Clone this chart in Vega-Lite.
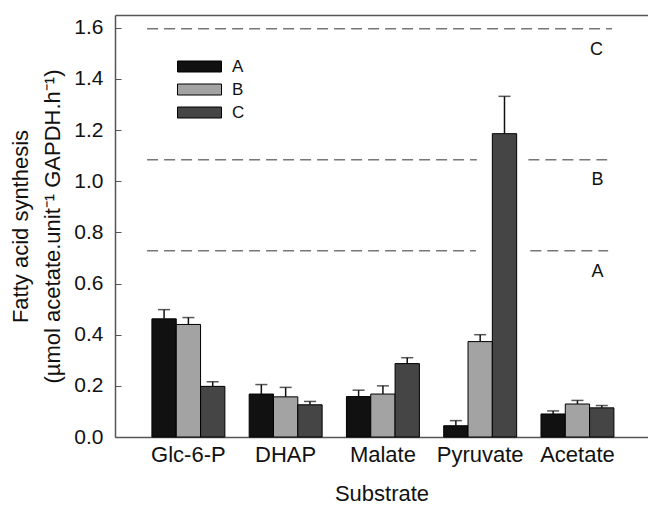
{
  "$schema": "https://vega.github.io/schema/vega-lite/v6.json",
  "autosize": {"type": "none"},
  "padding": {"left": 115, "top": 15, "right": 0, "bottom": 80},
  "width": 533,
  "height": 422,
  "background": "white",
  "config": {
    "font": "Liberation Sans",
    "view": {"stroke": null},
    "axis": {"labelFont": "Liberation Sans", "titleFont": "Liberation Sans", "labelColor": "#111", "titleColor": "#111", "titleFontWeight": "normal", "domainColor": "#555", "tickColor": "#555", "grid": false}
  },
  "datasets": {
    "bars": [
      {"substrate": "Glc-6-P", "series": "A", "value": 0.462, "upper": 0.498},
      {"substrate": "Glc-6-P", "series": "B", "value": 0.440, "upper": 0.467},
      {"substrate": "Glc-6-P", "series": "C", "value": 0.198, "upper": 0.216},
      {"substrate": "DHAP", "series": "A", "value": 0.168, "upper": 0.205},
      {"substrate": "DHAP", "series": "B", "value": 0.157, "upper": 0.194},
      {"substrate": "DHAP", "series": "C", "value": 0.126, "upper": 0.139},
      {"substrate": "Malate", "series": "A", "value": 0.158, "upper": 0.183},
      {"substrate": "Malate", "series": "B", "value": 0.168, "upper": 0.200},
      {"substrate": "Malate", "series": "C", "value": 0.287, "upper": 0.310},
      {"substrate": "Pyruvate", "series": "A", "value": 0.044, "upper": 0.064},
      {"substrate": "Pyruvate", "series": "B", "value": 0.373, "upper": 0.400},
      {"substrate": "Pyruvate", "series": "C", "value": 1.186, "upper": 1.332},
      {"substrate": "Acetate", "series": "A", "value": 0.090, "upper": 0.102},
      {"substrate": "Acetate", "series": "B", "value": 0.129, "upper": 0.143},
      {"substrate": "Acetate", "series": "C", "value": 0.114, "upper": 0.123}
    ],
    "levels": [
      {"series": "A", "level": 0.728, "start": 0.33, "end": 3.71},
      {"series": "A", "level": 0.728, "start": 4.27, "end": 5.07},
      {"series": "B", "level": 1.084, "start": 0.33, "end": 3.72},
      {"series": "B", "level": 1.084, "start": 4.25, "end": 5.06},
      {"series": "C", "level": 1.596, "start": 0.33, "end": 5.11}
    ],
    "levelLabels": [
      {"series": "A", "y": 0.646, "x": 4.96},
      {"series": "B", "y": 1.005, "x": 4.96},
      {"series": "C", "y": 1.514, "x": 4.95}
    ]
  },
  "resolve": {"scale": {"x": "independent"}},
  "layer": [
    {
      "data": {"name": "bars"},
      "encoding": {
        "x": {
          "field": "substrate", "type": "nominal", "sort": ["Glc-6-P", "DHAP", "Malate", "Pyruvate", "Acetate"],
          "scale": {"paddingInner": 0.25, "paddingOuter": 0.365, "align": 0.52},
          "axis": {"title": "Substrate", "labelAngle": 0, "ticks": false, "labelFontSize": 22, "titleFontSize": 22, "labelPadding": 7, "titlePadding": 18, "domainWidth": 1.5}
        },
        "xOffset": {"field": "series", "type": "nominal", "scale": {"paddingInner": 0, "paddingOuter": 0}}
      },
      "layer": [
        {
          "mark": {"type": "bar", "stroke": "#000", "strokeWidth": 1},
          "encoding": {
            "y": {
              "field": "value", "type": "quantitative",
              "scale": {"domain": [0, 1.65], "nice": false},
              "axis": {
                "title": ["Fatty acid synthesis", "(µmol acetate.unit⁻¹ GAPDH.h⁻¹)"],
                "values": [0, 0.2, 0.4, 0.6, 0.8, 1.0, 1.2, 1.4, 1.6],
                "format": ".1f", "labelFontSize": 21, "titleFontSize": 22,
                "tickSize": -6, "labelPadding": 18, "titlePadding": 9, "titleLineHeight": 32, "domainWidth": 1.5
              }
            },
            "color": {
              "field": "series", "type": "nominal",
              "scale": {"domain": ["A", "B", "C"], "range": ["#111111", "#a3a3a3", "#454545"]},
              "legend": {
                "title": null, "orient": "none", "legendX": 73, "legendY": 40,
                "symbolType": "M-2,-0.5H2V0.5H-2Z", "symbolSize": 484,
                "symbolStrokeColor": "#000", "symbolStrokeWidth": 1,
                "labelFontSize": 17, "labelFont": "Liberation Sans", "labelColor": "#111", "labelOffset": 21, "rowPadding": 3
              }
            }
          }
        },
        {
          "mark": {"type": "rule", "color": "#111", "strokeWidth": 1.5},
          "encoding": {
            "y": {"field": "value", "type": "quantitative"},
            "y2": {"field": "upper"}
          }
        },
        {
          "mark": {"type": "tick", "color": "#111", "thickness": 1.5, "size": 12},
          "encoding": {
            "y": {"field": "upper", "type": "quantitative"}
          }
        }
      ]
    },
    {
      "data": {"name": "levels"},
      "mark": {"type": "rule", "color": "#777", "strokeWidth": 1.5, "strokeDash": [11, 6]},
      "encoding": {
        "x": {"field": "start", "type": "quantitative", "scale": {"domain": [0, 5.48], "nice": false, "zero": false},
          "axis": {"orient": "top", "labels": false, "ticks": false, "title": null, "domainWidth": 1.5, "domainColor": "#555"}},
        "x2": {"field": "end"},
        "y": {"field": "level", "type": "quantitative"}
      }
    },
    {
      "data": {"name": "levelLabels"},
      "mark": {"type": "text", "fontSize": 18, "font": "Liberation Sans", "color": "#111", "align": "center", "baseline": "middle"},
      "encoding": {
        "x": {"field": "x", "type": "quantitative", "scale": {"domain": [0, 5.48], "nice": false, "zero": false}, "axis": null},
        "y": {"field": "y", "type": "quantitative"},
        "text": {"field": "series"}
      }
    }
  ]
}
